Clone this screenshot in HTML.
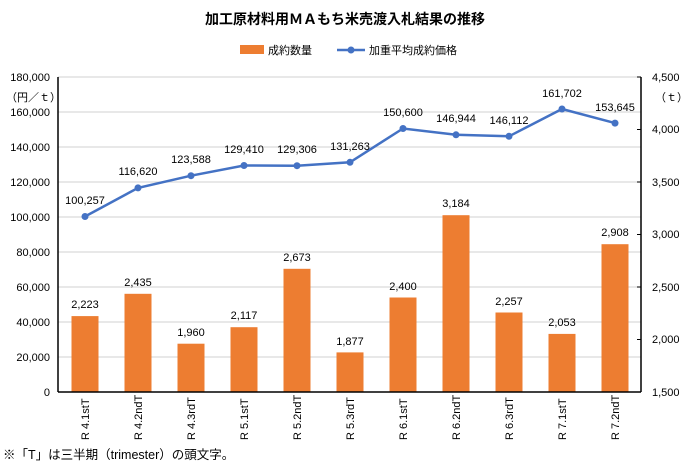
<!DOCTYPE html><html><head><meta charset="utf-8"><style>body{margin:0;background:#fff}svg{display:block;font-family:"Liberation Sans","Noto Sans CJK JP",sans-serif}</style></head><body>
<svg width="691" height="466" viewBox="0 0 691 466">
<text x="345" y="24" text-anchor="middle" font-size="14" font-weight="bold" fill="#000">加工原材料用ＭＡもち米売渡入札結果の推移</text>
<rect x="240" y="45" width="24" height="9" fill="#ED7D31"/><text x="268" y="54" font-size="11">成約数量</text>
<line x1="337" y1="50" x2="365" y2="50" stroke="#4472C4" stroke-width="2.5"/><circle cx="351" cy="50" r="3.5" fill="#4472C4"/><text x="369" y="54" font-size="11">加重平均成約価格</text>
<g stroke="#d9d9d9" stroke-width="1.3">
<line x1="58" x2="641" y1="77" y2="77"/><line x1="58" x2="641" y1="112" y2="112"/><line x1="58" x2="641" y1="147" y2="147"/><line x1="58" x2="641" y1="182" y2="182"/><line x1="58" x2="641" y1="217" y2="217"/><line x1="58" x2="641" y1="252" y2="252"/><line x1="58" x2="641" y1="287" y2="287"/><line x1="58" x2="641" y1="322" y2="322"/><line x1="58" x2="641" y1="357" y2="357"/></g>
<g font-size="11" text-anchor="end" fill="#000">
<text x="50" y="81">180,000</text><text x="50" y="116">160,000</text><text x="50" y="151">140,000</text><text x="50" y="186">120,000</text><text x="50" y="221">100,000</text><text x="50" y="256">80,000</text><text x="50" y="291">60,000</text><text x="50" y="326">40,000</text><text x="50" y="361">20,000</text><text x="50" y="396">0</text></g>
<text x="6" y="101" font-size="11">（円／ｔ）</text>
<g font-size="11" fill="#000">
<text x="652" y="81">4,500</text><text x="652" y="133">4,000</text><text x="652" y="186">3,500</text><text x="652" y="238">3,000</text><text x="652" y="291">2,500</text><text x="652" y="343">2,000</text><text x="652" y="396">1,500</text><text x="655" y="101">（ｔ）</text></g>
<g fill="#ED7D31">
<rect x="71.5" y="316.1" width="27" height="75.9"/><rect x="124.5" y="293.8" width="27" height="98.2"/><rect x="177.5" y="343.7" width="27" height="48.3"/><rect x="230.5" y="327.2" width="27" height="64.8"/><rect x="283.5" y="268.8" width="27" height="123.2"/><rect x="336.5" y="352.4" width="27" height="39.6"/><rect x="389.5" y="297.5" width="27" height="94.5"/><rect x="442.5" y="215.2" width="27" height="176.8"/><rect x="495.5" y="312.5" width="27" height="79.5"/><rect x="548.5" y="333.9" width="27" height="58.1"/><rect x="601.5" y="244.2" width="27" height="147.8"/></g>
<g font-size="11" text-anchor="middle">
<text x="85" y="308">2,223</text><text x="138" y="286">2,435</text><text x="191" y="336">1,960</text><text x="244" y="319">2,117</text><text x="297" y="261">2,673</text><text x="350" y="345">1,877</text><text x="403" y="290">2,400</text><text x="456" y="207">3,184</text><text x="509" y="305">2,257</text><text x="562" y="326">2,053</text><text x="615" y="236">2,908</text></g>
<line x1="58" y1="77" x2="58" y2="392" stroke="#000" stroke-width="1.5"/>
<line x1="641" y1="77" x2="641" y2="392" stroke="#000" stroke-width="1.5"/>
<line x1="58" y1="392" x2="641" y2="392" stroke="#000" stroke-width="1.5"/>
<g stroke="#000"><line x1="637" x2="641" y1="77" y2="77"/><line x1="637" x2="641" y1="129.5" y2="129.5"/><line x1="637" x2="641" y1="182" y2="182"/><line x1="637" x2="641" y1="234.5" y2="234.5"/><line x1="637" x2="641" y1="287" y2="287"/><line x1="637" x2="641" y1="339.5" y2="339.5"/></g>
<polyline fill="none" stroke="#4472C4" stroke-width="2.5" points="85,216.5 138,187.9 191,175.7 244,165.5 297,165.7 350,162.3 403,128.5 456,134.8 509,136.3 562,109 615,123.1"/>
<g fill="#4472C4"><circle cx="85" cy="216.5" r="3.5"/><circle cx="138" cy="187.9" r="3.5"/><circle cx="191" cy="175.7" r="3.5"/><circle cx="244" cy="165.5" r="3.5"/><circle cx="297" cy="165.7" r="3.5"/><circle cx="350" cy="162.3" r="3.5"/><circle cx="403" cy="128.5" r="3.5"/><circle cx="456" cy="134.8" r="3.5"/><circle cx="509" cy="136.3" r="3.5"/><circle cx="562" cy="109" r="3.5"/><circle cx="615" cy="123.1" r="3.5"/></g>
<g font-size="11" text-anchor="middle">
<text x="85" y="204">100,257</text><text x="138" y="175">116,620</text><text x="191" y="163">123,588</text><text x="244" y="153">129,410</text><text x="297" y="153">129,306</text><text x="350" y="150">131,263</text><text x="403" y="116">150,600</text><text x="456" y="122">146,944</text><text x="509" y="124">146,112</text><text x="562" y="97">161,702</text><text x="615" y="111">153,645</text></g>
<g font-size="11">
<text transform="translate(89,440) rotate(-90)">R 4.1stT</text><text transform="translate(142,440) rotate(-90)">R 4.2ndT</text><text transform="translate(195,440) rotate(-90)">R 4.3rdT</text><text transform="translate(248,440) rotate(-90)">R 5.1stT</text><text transform="translate(301,440) rotate(-90)">R 5.2ndT</text><text transform="translate(354,440) rotate(-90)">R 5.3rdT</text><text transform="translate(407,440) rotate(-90)">R 6.1stT</text><text transform="translate(460,440) rotate(-90)">R 6.2ndT</text><text transform="translate(513,440) rotate(-90)">R 6.3rdT</text><text transform="translate(566,440) rotate(-90)">R 7.1stT</text><text transform="translate(619,440) rotate(-90)">R 7.2ndT</text></g>
<text x="3" y="459" font-size="12.5">※「T」は三半期（trimester）の頭文字。</text>
</svg></body></html>
